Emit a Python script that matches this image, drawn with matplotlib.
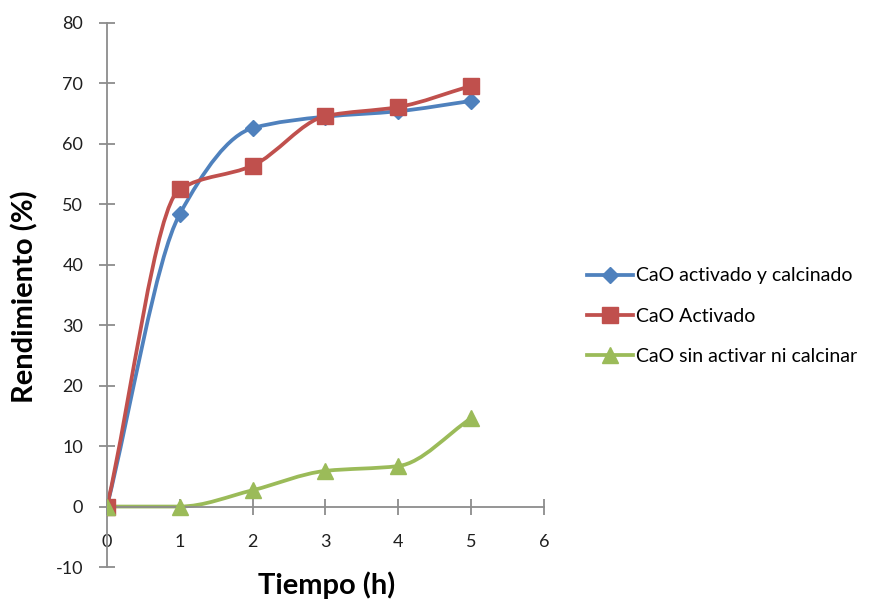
import matplotlib
matplotlib.use('Agg')
import matplotlib.pyplot as plt
from matplotlib.path import Path
from matplotlib.patches import PathPatch
from matplotlib.lines import Line2D

plt.rcParams['font.family'] = ['Lato', 'DejaVu Sans']
plt.rcParams['axes.unicode_minus'] = False

tiempo = [0, 1, 2, 3, 4, 5]
activado_calcinado = [0, 48.4, 62.6, 64.5, 65.4, 67.1]
activado = [0, 52.5, 56.4, 64.6, 66.1, 69.6]
sin_activar = [0, 0, 2.7, 5.9, 6.7, 14.6]

series = [
    ('CaO activado y calcinado', activado_calcinado, '#4F81BD', 'D', 8.5),
    ('CaO Activado', activado, '#C0504D', 's', 11),
    ('CaO sin activar ni calcinar', sin_activar, '#9BBB59', '^', 11.5),
]


def smooth_path(x, y):
    # cubic Bezier through the points, monotone tangents so flat stretches don't bulge
    n = len(x)
    d = [(y[i + 1] - y[i]) / (x[i + 1] - x[i]) for i in range(n - 1)]
    m = [d[0]]
    for i in range(1, n - 1):
        if d[i - 1] * d[i] <= 0:
            m.append(0.0)
        else:
            m.append(2 / (1 / d[i - 1] + 1 / d[i]))
    m.append(d[-1])
    verts = [(x[0], y[0])]
    codes = [Path.MOVETO]
    for i in range(n - 1):
        h = x[i + 1] - x[i]
        verts += [(x[i] + h / 3, y[i] + m[i] * h / 3),
                  (x[i + 1] - h / 3, y[i + 1] - m[i + 1] * h / 3),
                  (x[i + 1], y[i + 1])]
        codes += [Path.CURVE4] * 3
    return Path(verts, codes)


fig = plt.figure(figsize=(8.71, 6), dpi=100)
ax = fig.add_axes([0.1228, 0.055, 0.5017, 0.9067])

handles = []
for label, vals, color, mk, ms in series:
    ax.add_patch(PathPatch(smooth_path(tiempo, vals), facecolor='none',
                           edgecolor=color, lw=2.7, zorder=2))
    ax.plot(tiempo, vals, ls='none', marker=mk, ms=ms, color=color, zorder=3)
    handles.append(Line2D([], [], color=color, lw=2.7, marker=mk, ms=ms, label=label))

ax.set_xlim(0, 6)
ax.set_ylim(-10, 80)
ax.set_xticks(range(0, 7))
ax.set_yticks(range(-10, 81, 10))

ax.spines['top'].set_visible(False)
ax.spines['right'].set_visible(False)
ax.spines['bottom'].set_position(('data', 0))
for s in ('left', 'bottom'):
    ax.spines[s].set_color('#8c8c8c')
    ax.spines[s].set_linewidth(1.3)
ax.tick_params(direction='inout', length=12, width=1.3, color='#8c8c8c',
               labelsize=13, labelcolor='#1f1f1f')
ax.tick_params(axis='y', pad=11)
ax.tick_params(axis='x', pad=14)

fig.text(0.029, 0.505, 'Rendimiento (%)', rotation=90, ha='center', va='center',
         fontsize=21, fontweight='bold')
fig.text(0.375, 0.025, 'Tiempo (h)', ha='center', va='center',
         fontsize=21, fontweight='bold')

fig.legend(handles=handles, loc='center left', bbox_to_anchor=(0.6625, 0.473),
           frameon=False, borderpad=0, fontsize=14, handlelength=2.4,
           handletextpad=0.12, labelspacing=1.2)

fig.savefig('out.png', dpi=100)
